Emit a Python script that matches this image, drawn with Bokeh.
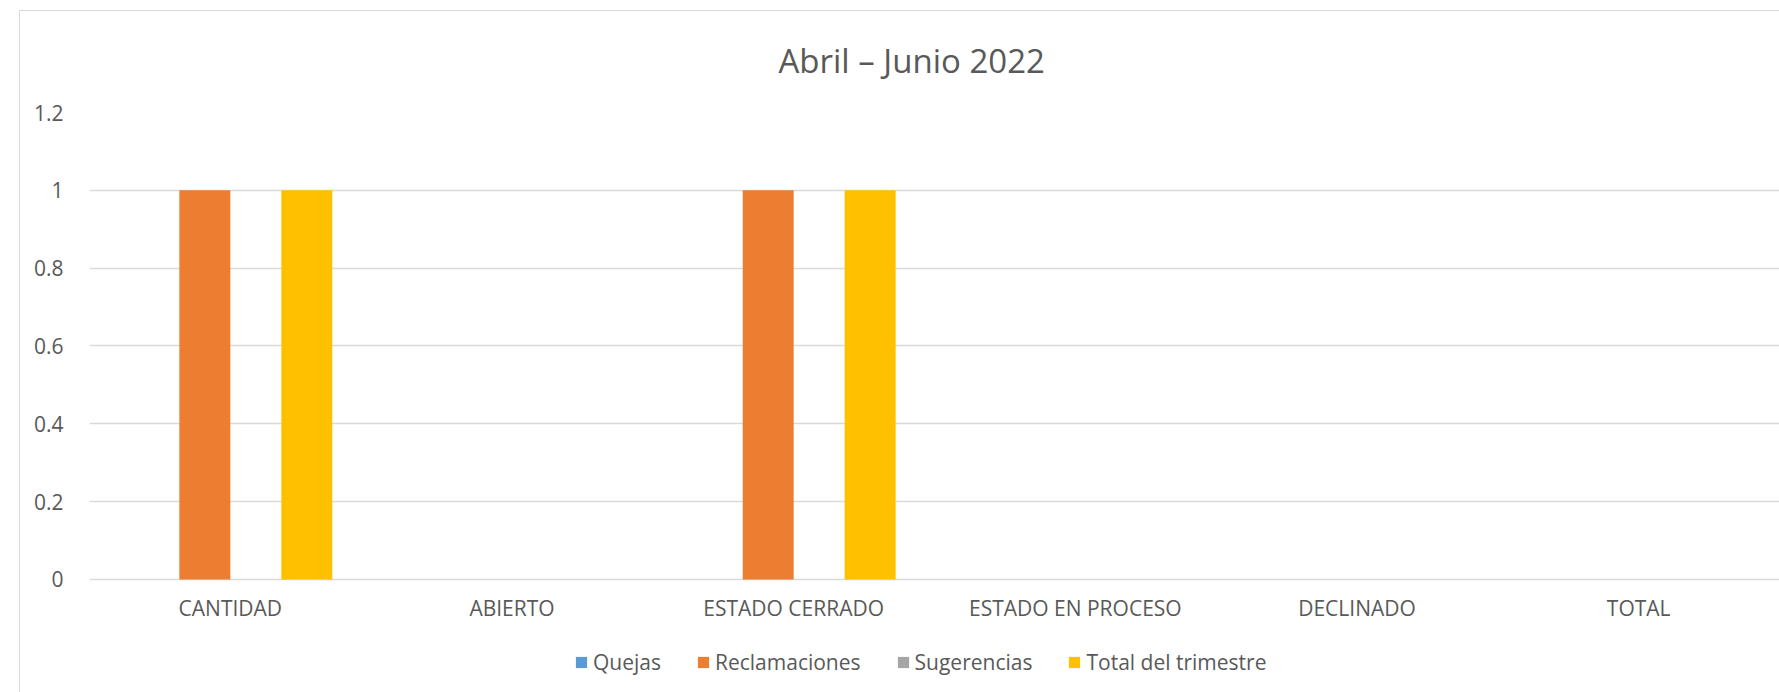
from bokeh.plotting import figure
from bokeh.models import (FactorRange, Range1d, Legend, LegendItem, CustomJSTickFormatter,
                          FixedTicker, ColumnDataSource, InlineStyleSheet)
from bokeh.transform import dodge
from bokeh.embed import file_html
from bokeh.resources import INLINE

categories = ["CANTIDAD", "ABIERTO", "ESTADO CERRADO", "ESTADO EN PROCESO", "DECLINADO", "TOTAL"]
quejas = [0, 0, 0, 0, 0, 0]
reclamaciones = [1, 0, 1, 0, 0, 0]
sugerencias = [0, 0, 0, 0, 0, 0]
total_trimestre = [1, 0, 1, 0, 0, 0]
series_names = ["Quejas", "Reclamaciones", "Sugerencias", "Total del trimestre"]
series_colors = ["#5B9BD5", "#ED7D31", "#A5A5A5", "#FFC000"]
y_ticks = [0, 0.2, 0.4, 0.6, 0.8, 1.0, 1.2]
title_text = "Abril – Junio 2022"

FONT = "Open Sans"
TXT = "#595959"
GRID = "#d9d9d9"

src = ColumnDataSource(dict(cat=categories, q=quejas, r=reclamaciones,
                            s=sugerencias, t=total_trimestre))

border_css = InlineStyleSheet(css="""
:host::after { content: ""; position: absolute; left: 19px; top: 10px; right: 0px; bottom: 0px;
  border-left: 1.5px solid #d9d9d9; border-top: 1.5px solid #d9d9d9; pointer-events: none; }
""")

# frame spans the whole lower area; the value axis 0..1.2 occupies its upper part,
# the area below 0 holds the category labels and the legend
p = figure(x_range=FactorRange(factors=categories, range_padding=0),
           y_range=Range1d(-0.2904, 1.2), width=1779, height=692,
           output_backend="svg", toolbar_location=None,
           min_border_left=89, min_border_right=0, min_border_top=112,
           min_border_bottom=0, stylesheets=[border_css])
p.background_fill_color = "white"
p.border_fill_color = "white"
p.outline_line_color = None

bw = 0.181
offsets = [-0.2715, -0.0905, 0.0905, 0.2715]
cols = ["q", "r", "s", "t"]
items = []
for name, col, color, off in zip(series_names, cols, series_colors, offsets):
    r = p.vbar(x=dodge("cat", off, range=p.x_range), top=col, bottom=0, width=bw,
               source=src, fill_color=color, line_color=None)
    items.append(LegendItem(label=name, renderers=[r]))

# title
p.title.text = title_text
p.title.align = "left"
p.title.offset = 689
p.title.text_font = FONT
p.title.text_font_size = "33px"
p.title.text_font_style = "normal"
p.title.text_color = TXT
p.title.standoff = 60

# y axis
p.yaxis.ticker = FixedTicker(ticks=y_ticks)
p.yaxis.formatter = CustomJSTickFormatter(code="return (Math.round(tick*10)/10).toString();")
p.yaxis.major_label_text_font = FONT
p.yaxis.major_label_text_font_size = "21px"
p.yaxis.major_label_text_color = TXT
p.yaxis.major_label_standoff = 20
p.yaxis.axis_line_color = None
p.yaxis.major_tick_line_color = None
p.yaxis.minor_tick_line_color = None

# x axis fixed at value 0
p.xaxis.fixed_location = 0
p.xaxis.major_label_text_font = FONT
p.xaxis.major_label_text_font_size = "21px"
p.xaxis.major_label_text_color = TXT
p.xaxis.major_label_standoff = 9
p.xaxis.axis_line_color = None
p.xaxis.major_tick_line_color = None
p.xaxis.minor_tick_line_color = None

p.xgrid.grid_line_color = None
p.ygrid.grid_line_color = GRID
p.ygrid.grid_line_width = 1.4

legend = Legend(items=items, orientation="horizontal", location=(485, 16),
                label_text_font=FONT, label_text_font_size="21px",
                label_text_color=TXT, glyph_width=14, glyph_height=14,
                label_standoff=5, spacing=35, padding=0, margin=0,
                border_line_color=None, background_fill_alpha=0)
p.add_layout(legend)

open("out.html", "w").write(file_html(p, INLINE))
